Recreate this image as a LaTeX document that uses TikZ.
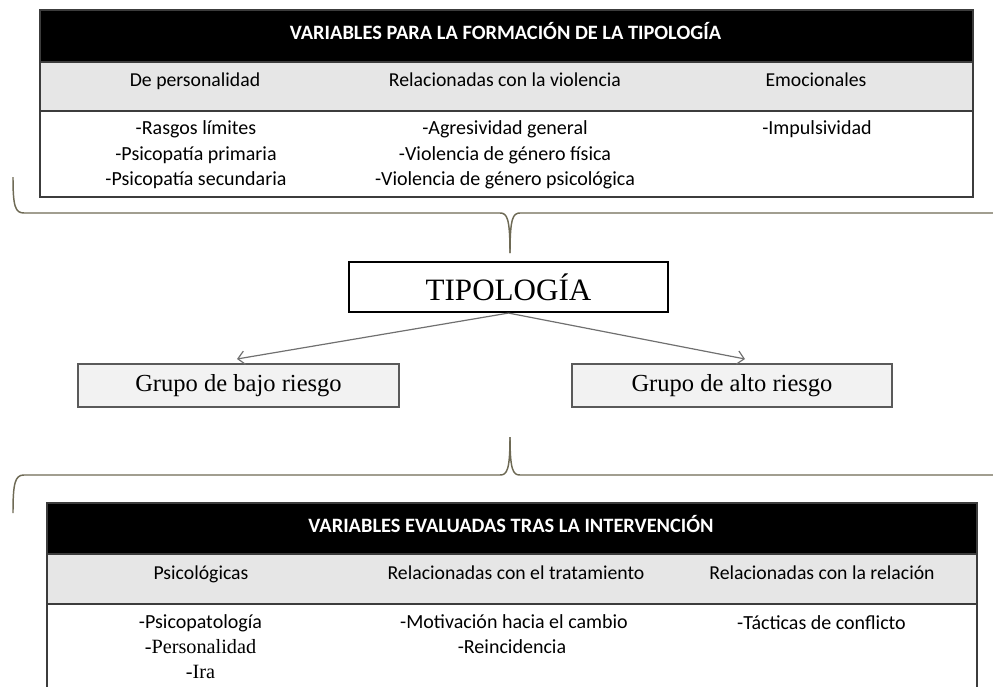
\documentclass[tikz,border=0pt]{standalone}
\usepackage{fontspec}
\setmainfont{Carlito}
\newfontfamily\serifcam{Liberation Serif}
\usetikzlibrary{arrows.meta}
\definecolor{tblline}{HTML}{3C3C3C}
\definecolor{rowgray}{HTML}{E6E6E6}
\definecolor{boxgray}{HTML}{F2F2F2}
\definecolor{boxline}{HTML}{5A5A5A}
\definecolor{bracecol}{HTML}{6E6A55}
\definecolor{arrowcol}{HTML}{707070}
\tikzset{
  hdrtext/.style={text=white, font=\fontsize{15.3}{17}\selectfont\bfseries, inner sep=0pt},
  coltext/.style={font=\fontsize{14.8}{17}\selectfont, inner sep=0pt, text height=10pt, text depth=3pt},
  itemtext/.style={font=\fontsize{15}{17}\selectfont, inner sep=0pt, text height=10pt, text depth=3pt},
  seritem/.style={font=\fontsize{15.2}{17}\selectfont\serifcam, inner sep=0pt, text height=10pt, text depth=3pt},
  tblrule/.style={draw=tblline, line width=1.1pt},
  bracestyle/.style={draw=bracecol, line width=1.1pt},
  mainbox/.style={draw=black, line width=1.6pt, fill=white, minimum width=239pt, minimum height=37.5pt, inner sep=0pt, font=\fontsize{23.3}{26}\selectfont\serifcam},
  groupbox/.style={draw=boxline, line width=1.6pt, fill=boxgray, minimum width=240.5pt, minimum height=32.25pt, inner sep=0pt, font=\fontsize{18.4}{20}\selectfont\serifcam},
  flowarrow/.style={draw=arrowcol, line width=0.9pt, -{Straight Barb[length=5pt,width=10pt]}}
}
\begin{document}
\begin{tikzpicture}[x=0.75pt,y=-0.75pt]
\useasboundingbox (0,0) rectangle (993,686);
% ---------- top table ----------
\fill[black] (40,10) rectangle (973,62);
\fill[rowgray] (40,62) rectangle (973,111);
\draw[tblrule] (40,10) rectangle (973,197);
\draw[tblrule] (40,62) -- (973,62);
\draw[tblrule] (40,111) -- (973,111);
\node[hdrtext] (t1) at (505.5,31) {VARIABLES PARA LA FORMACIÓN DE LA TIPOLOGÍA};
\node[coltext] (c11) at (195,81.5) {De personalidad};
\node[coltext] (c12) at (505,81.5) {Relacionadas con la violencia};
\node[coltext] (c13) at (816,81.5) {Emocionales};
\node[itemtext] (i111) at (196,130) {-Rasgos límites};
\node[itemtext] (i112) at (196,155.5) {-Psicopatía primaria};
\node[itemtext] (i113) at (196,181) {-Psicopatía secundaria};
\node[itemtext] (i121) at (505,130) {-Agresividad general};
\node[itemtext] (i122) at (505,155.5) {-Violencia de género física};
\node[itemtext] (i123) at (505,181) {-Violencia de género psicológica};
\node[itemtext] (i131) at (817,130) {-Impulsividad};
% ---------- top brace ----------
\coordinate (b1tip) at (510,253);
\draw[bracestyle] (13,177) .. controls (13,206) and (15,213) .. (24,213) -- (500,213) .. controls (507,213) and (510,218) .. (b1tip);
\draw[bracestyle] (b1tip) .. controls (510,218) and (513,213) .. (520,213) -- (993,213);
% ---------- middle ----------
\node[mainbox] (tipo) at (508.5,287) {TIPOLOGÍA};
\node[groupbox] (bajo) at (238.5,385.5) {Grupo de bajo riesgo};
\node[groupbox] (alto) at (732,385.5) {Grupo de alto riesgo};
\coordinate (abajo) at (237,359);
\coordinate (aalto) at (745,359);
\draw[flowarrow] (tipo.south) -- (abajo);
\draw[flowarrow] (tipo.south) -- (aalto);
% ---------- bottom brace ----------
\coordinate (b2tip) at (510,437);
\draw[bracestyle] (13,513) .. controls (13,483) and (15,475) .. (24,475) -- (500,475) .. controls (507,475) and (510,470) .. (b2tip);
\draw[bracestyle] (b2tip) .. controls (510,470) and (513,475) .. (520,475) -- (993,475);
% ---------- bottom table ----------
\fill[black] (47,503) rectangle (977,554);
\fill[rowgray] (47,554) rectangle (977,604);
\draw[tblrule] (47,690) -- (47,503) -- (977,503) -- (977,690);
\draw[tblrule] (47,554) -- (977,554);
\draw[tblrule] (47,604) -- (977,604);
\node[hdrtext] (t2) at (511,524) {VARIABLES EVALUADAS TRAS LA INTERVENCIÓN};
\node[coltext] (c21) at (201,574.5) {Psicológicas};
\node[coltext] (c22) at (516,574.5) {Relacionadas con el tratamiento};
\node[coltext] (c23) at (822,574.5) {Relacionadas con la relación};
\node[itemtext] (i211) at (200.5,623.5) {-Psicopatología};
\node[seritem] (i212) at (200.5,648.5) {-Personalidad};
\node[seritem] (i213) at (200.5,673.5) {-Ira};
\node[itemtext] (i221) at (514,623.5) {-Motivación hacia el cambio};
\node[itemtext] (i222) at (512,648.5) {-Reincidencia};
\node[itemtext] (i231) at (821.5,624.5) {-Tácticas de conflicto};
\end{tikzpicture}
\end{document}
